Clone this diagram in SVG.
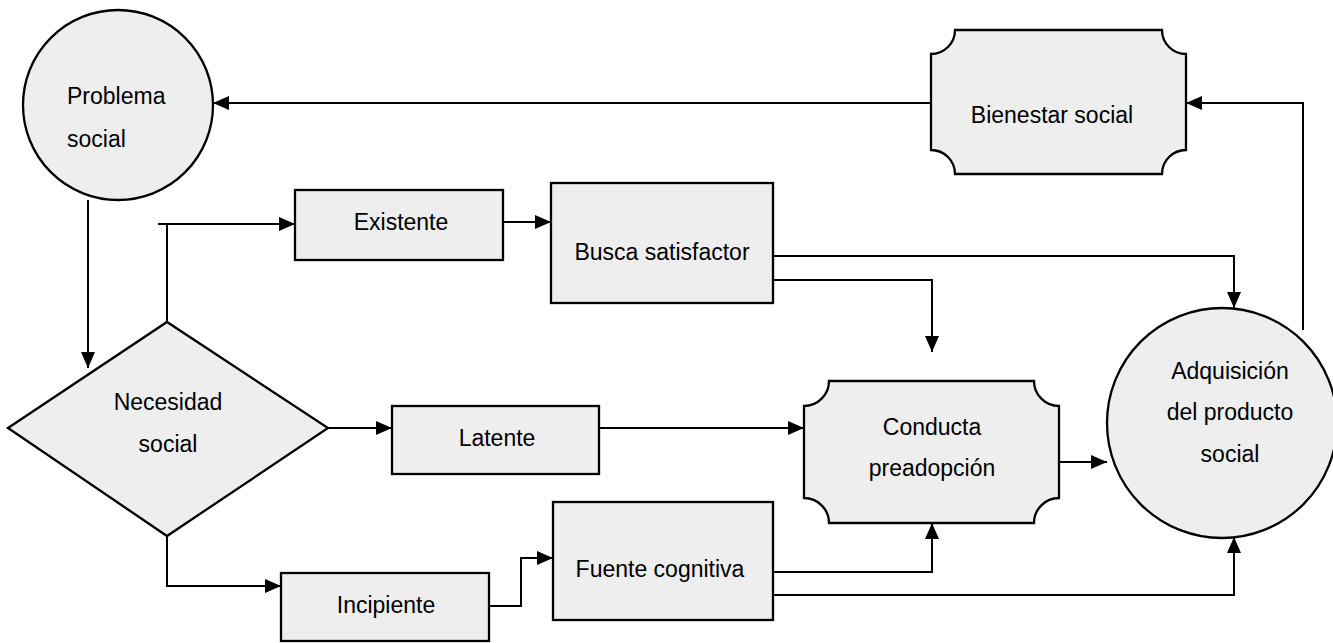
<svg xmlns="http://www.w3.org/2000/svg" width="1333" height="643" viewBox="0 0 1333 643">
<style>
.node{fill:#eeeeee;stroke:#000;stroke-width:2.3}
.lbl{font-family:"Liberation Sans",Arial,sans-serif;font-size:23px;fill:#000}
.c{text-anchor:middle}
.conn path{fill:none;stroke:#000;stroke-width:2}
</style>
<defs>
<marker id="ah" markerUnits="userSpaceOnUse" markerWidth="16" markerHeight="14" refX="16" refY="7" orient="auto">
<path d="M0,0 L16,7 L0,14 Z" fill="#000"/>
</marker>
</defs>
<rect width="1333" height="643" fill="#fff"/>
<g class="conn">
<path d="M88,200 V368" marker-end="url(#ah)"/>
<path d="M167,322 V224 H295" marker-end="url(#ah)"/>
<path d="M158,224 H167"/>
<path d="M503,222 H551" marker-end="url(#ah)"/>
<path d="M328,428 H392" marker-end="url(#ah)"/>
<path d="M167,536 V586 H281" marker-end="url(#ah)"/>
<path d="M489,606 H521 V558 H553" marker-end="url(#ah)"/>
<path d="M599,428 H804" marker-end="url(#ah)"/>
<path d="M773,256 H1234 V308" marker-end="url(#ah)"/>
<path d="M773,280 H932 V352" marker-end="url(#ah)"/>
<path d="M773,572 H932 V523" marker-end="url(#ah)"/>
<path d="M773,595 H1234 V537" marker-end="url(#ah)"/>
<path d="M1059,462 H1107" marker-end="url(#ah)"/>
<path d="M1303,330 V103 H1186" marker-end="url(#ah)"/>
<path d="M931,103 H213" marker-end="url(#ah)"/>
</g>
<g id="problema">
<circle class="node" cx="118" cy="105" r="95"/>
<text class="lbl" x="67" y="104">Problema</text>
<text class="lbl" x="67" y="147">social</text>
</g>
<g id="bienestar">
<path class="node" d="M955,30 H1162 A24,24 0 0 0 1186,54 V150 A24,24 0 0 0 1162,174 H955 A24,24 0 0 0 931,150 V54 A24,24 0 0 0 955,30 Z"/>
<text class="lbl c" x="1052" y="123">Bienestar social</text>
</g>
<g id="necesidad">
<polygon class="node" points="8,428 167,322 328,428 167,536"/>
<text class="lbl c" x="168" y="410">Necesidad</text>
<text class="lbl c" x="168" y="452">social</text>
</g>
<g id="existente">
<rect class="node" x="295" y="190" width="208" height="70"/>
<text class="lbl c" x="401" y="230">Existente</text>
</g>
<g id="busca">
<rect class="node" x="551" y="183" width="222" height="120"/>
<text class="lbl c" x="662" y="260">Busca satisfactor</text>
</g>
<g id="latente">
<rect class="node" x="392" y="406" width="207" height="68"/>
<text class="lbl c" x="497" y="446">Latente</text>
</g>
<g id="incipiente">
<rect class="node" x="281" y="573" width="208" height="68"/>
<text class="lbl c" x="386" y="613">Incipiente</text>
</g>
<g id="fuente">
<rect class="node" x="553" y="502" width="220" height="118"/>
<text class="lbl c" x="660" y="577">Fuente cognitiva</text>
</g>
<g id="conducta">
<path class="node" d="M829,381 H1034 A25,25 0 0 0 1059,406 V498 A25,25 0 0 0 1034,523 H829 A25,25 0 0 0 804,498 V406 A25,25 0 0 0 829,381 Z"/>
<text class="lbl c" x="932" y="435">Conducta</text>
<text class="lbl c" x="932" y="476">preadopción</text>
</g>
<g id="adquisicion">
<circle class="node" cx="1222" cy="423" r="115"/>
<text class="lbl c" x="1230" y="379">Adquisición</text>
<text class="lbl c" x="1230" y="420">del producto</text>
<text class="lbl c" x="1230" y="462">social</text>
</g>
</svg>
